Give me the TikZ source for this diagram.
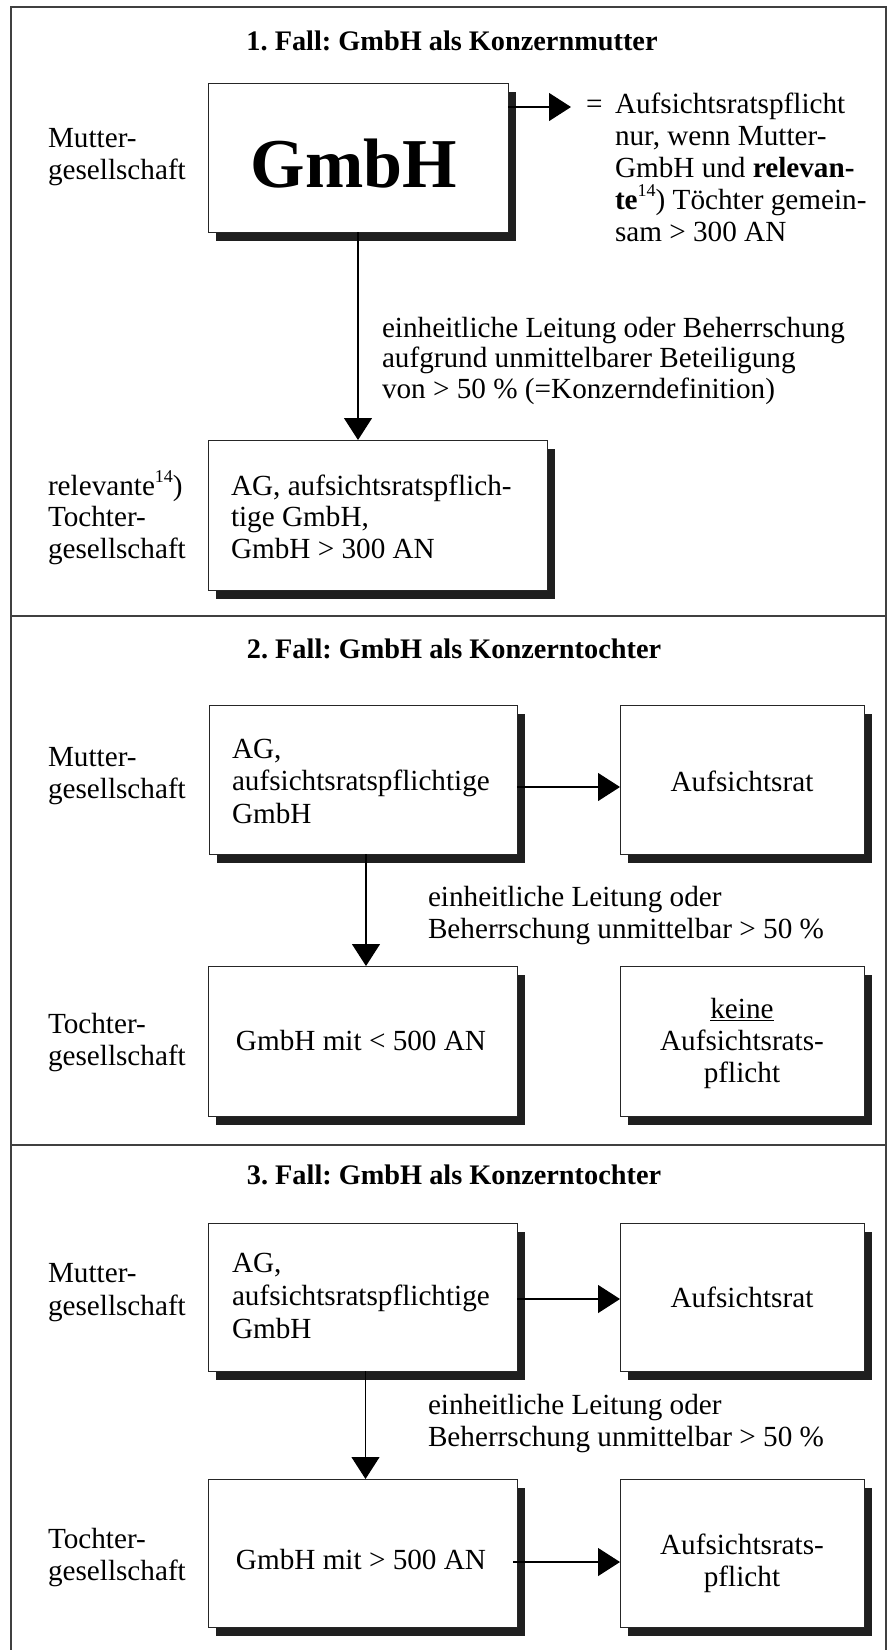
\documentclass[tikz,border=0pt]{standalone}
\usepackage{fontspec}
\setmainfont{Liberation Serif}
\usetikzlibrary{arrows.meta,shadows}
\frenchspacing
\newcommand\supx[1]{\raisebox{0.42em}{\fontsize{18}{18}\selectfont #1}}
\tikzset{
  boxx/.style={draw=black!85, line width=1pt, fill=white,
    general shadow={fill=black!88, shadow xshift=8pt, shadow yshift=-9pt},
    anchor=north west, inner sep=0pt, outer sep=0pt},
  txt/.style={inner sep=0pt, outer sep=0pt, align=left, anchor=base west,
    font=\fontsize{29.2}{#1}\selectfont},
  txt/.default=30,
  ctxt/.style={inner sep=0pt, outer sep=0pt, align=center, anchor=base,
    font=\fontsize{29.2}{#1}\selectfont},
  ctxt/.default=31,
  ttl/.style={inner sep=0pt, outer sep=0pt, anchor=base,
    font=\bfseries\fontsize{28.3}{30}\selectfont},
  arr/.style={line width=1.2pt, -{Triangle[length=22pt,width=28pt]}},
  frame/.style={line width=1.5pt, draw=black!75},
}
\begin{document}
\begin{tikzpicture}[x=1pt,y=-1pt]
\fill[white] (0,0) rectangle (887,1650);
\useasboundingbox (0,0) rectangle (887,1650);
% frame and separators (base anchors of multi-line texts = last line)
\draw[frame] (11,1650) -- (11,7) -- (886,7) -- (886,1650);
\draw[frame] (11,616) -- (887,616);
\draw[frame] (11,1145) -- (887,1145);

% ---------- Case 1 ----------
\node[ttl] (t1) at (452,50) {1. Fall: GmbH als Konzernmutter};
\node[txt=32] (l1m) at (48,179) {Mutter-\\gesellschaft};
\node[boxx, minimum width=300pt, minimum height=149pt] (G) at (208,83) {};
\node[inner sep=0pt, anchor=base, font=\bfseries\fontsize{70}{70}\selectfont] (Gt) at (354,187) {GmbH};
\coordinate (g1) at (571,107);
\draw[arr] ([yshift=-24pt]G.north east) -- (g1);
\node[txt] (eq1) at (586,113) {=};
\node[txt=32] (r1) at (615,241) {Aufsichtsratspflicht\\nur, wenn Mutter-\\GmbH und \textbf{relevan-}\\\textbf{te}\supx{14}) Töchter gemein-\\sam > 300 AN};
\node[boxx, minimum width=339pt, minimum height=150pt] (B1) at (208,440) {};
\draw[arr] (G.south) -- (G.south |- B1.north);
\node[txt=30.5] (v1) at (382,398) {einheitliche Leitung oder Beherrschung\\aufgrund unmittelbarer Beteiligung\\von > 50 \% (=Konzerndefinition)};
\node[txt=31.5] (b1t) at (231,558) {AG, aufsichtsratspflich-\\tige GmbH,\\GmbH > 300 AN};
\node[txt=31.5] (l1t) at (48,558) {relevante\supx{14})\\Tochter-\\gesellschaft};

% ---------- Case 2 ----------
\node[ttl] (t2) at (454,658) {2. Fall: GmbH als Konzerntochter};
\node[txt=32] (l2m) at (48,798) {Mutter-\\gesellschaft};
\node[boxx, minimum width=308pt, minimum height=149pt] (M2) at (209,705) {};
\node[txt=32.5] (m2t) at (232,823) {AG,\\aufsichtsratspflichtige\\GmbH};
\node[boxx, minimum width=244pt, minimum height=149pt] (A2) at (620,705) {};
\node[ctxt] (a2t) at (742,791) {Aufsichtsrat};
\draw[arr] ([yshift=-82pt]M2.north east) -- ([yshift=-82pt]A2.north west);
\node[boxx, minimum width=309pt, minimum height=150pt] (T2) at (208,966) {};
\draw[arr] ([xshift=3pt]M2.south) -- ([xshift=3pt]M2.south |- T2.north);
\node[txt=32] (v2) at (428,938) {einheitliche Leitung oder\\Beherrschung unmittelbar > 50 \%};
\node[ctxt] (t2t) at (361,1050) {GmbH mit < 500 AN};
\node[boxx, minimum width=244pt, minimum height=150pt] (K2) at (620,966) {};
\node[ctxt=32] (k2t) at (742,1082) {\underline{keine}\\Aufsichtsrats-\\pflicht};
\node[txt=32] (l2t) at (48,1065) {Tochter-\\gesellschaft};

% ---------- Case 3 ----------
\node[ttl] (t3) at (454,1184) {3. Fall: GmbH als Konzerntochter};
\node[txt=32.5] (l3m) at (48,1315) {Mutter-\\gesellschaft};
\node[boxx, minimum width=309pt, minimum height=148pt] (M3) at (208,1223) {};
\node[txt=33] (m3t) at (232,1338) {AG,\\aufsichtsratspflichtige\\GmbH};
\node[boxx, minimum width=244pt, minimum height=148pt] (A3) at (620,1223) {};
\node[ctxt] (a3t) at (742,1307) {Aufsichtsrat};
\draw[arr] ([yshift=-76pt]M3.north east) -- ([yshift=-76pt]A3.north west);
\node[boxx, minimum width=309pt, minimum height=148pt] (T3) at (208,1479) {};
\draw[arr] ([xshift=3pt]M3.south) -- ([xshift=3pt]M3.south |- T3.north);
\node[txt=32] (v3) at (428,1446) {einheitliche Leitung oder\\Beherrschung unmittelbar > 50 \%};
\node[ctxt] (t3t) at (361,1569) {GmbH mit > 500 AN};
\node[boxx, minimum width=244pt, minimum height=148pt] (P3) at (620,1479) {};
\node[ctxt=32] (p3t) at (742,1586) {Aufsichtsrats-\\pflicht};
\draw[arr] ([xshift=-4pt,yshift=-83pt]T3.north east) -- ([yshift=-83pt]P3.north west);
\node[txt=32] (l3t) at (48,1580) {Tochter-\\gesellschaft};
\end{tikzpicture}
\end{document}
